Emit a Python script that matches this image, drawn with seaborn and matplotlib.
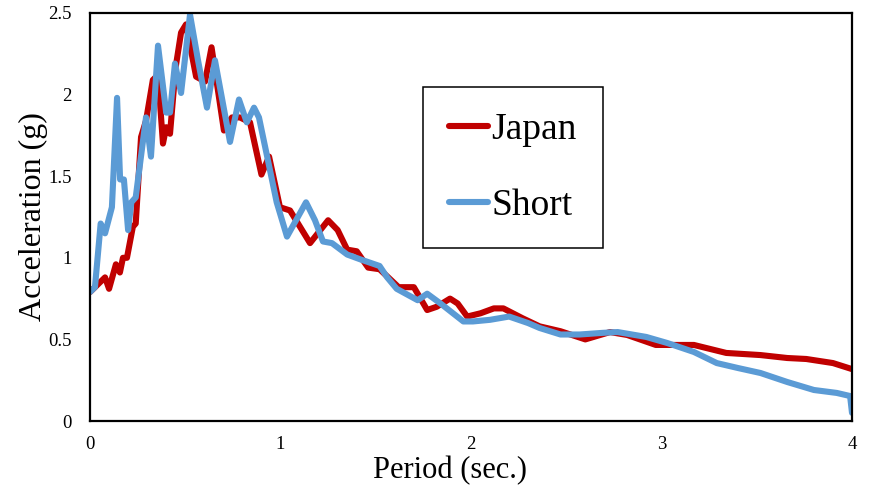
import numpy as np
import pandas as pd
import matplotlib
matplotlib.use("Agg")
import matplotlib.pyplot as plt
import seaborn as sns

# Japan spectrum
japan_x = [0, 0.079, 0.1, 0.136, 0.157, 0.173, 0.194, 0.225, 0.24, 0.268, 0.294, 0.33, 0.357,
           0.383, 0.4, 0.42, 0.45, 0.478, 0.504, 0.557, 0.604, 0.638, 0.703, 0.745, 0.787, 0.84,
           0.9, 0.94, 0.997, 1.05, 1.155, 1.25, 1.3, 1.35, 1.4, 1.46, 1.52, 1.62, 1.70, 1.77,
           1.82, 1.89, 1.93, 1.98, 2.05, 2.12, 2.17, 2.27, 2.36, 2.47, 2.6, 2.73, 2.82, 2.97,
           3.17, 3.34, 3.52, 3.66, 3.76, 3.90, 4.0]
japan_y = [0.79, 0.88, 0.81, 0.96, 0.91, 1.0, 1.0, 1.19, 1.21, 1.74, 1.84, 2.09, 2.12,
           1.70, 1.80, 1.76, 2.17, 2.38, 2.43, 2.11, 2.08, 2.29, 1.78, 1.86, 1.86, 1.83,
           1.51, 1.62, 1.31, 1.29, 1.09, 1.23, 1.17, 1.05, 1.04, 0.94, 0.93, 0.82, 0.82, 0.68,
           0.70, 0.75, 0.72, 0.64, 0.66, 0.69, 0.69, 0.63, 0.58, 0.55, 0.50, 0.545, 0.527, 0.466,
           0.466, 0.417, 0.404, 0.386, 0.38, 0.355, 0.318]

# Short spectrum
short_x = [0, 0.026, 0.056, 0.079, 0.115, 0.142, 0.158, 0.178, 0.2, 0.217, 0.24, 0.294, 0.32,
           0.357, 0.4, 0.42, 0.446, 0.478, 0.525, 0.567, 0.614, 0.656, 0.735, 0.782, 0.823,
           0.861, 0.887, 0.93, 0.98, 1.034, 1.134, 1.181, 1.223, 1.27, 1.35, 1.42, 1.52, 1.56,
           1.61, 1.72, 1.77, 1.84, 1.96, 2.01, 2.1, 2.2, 2.3, 2.36, 2.47, 2.57, 2.69, 2.77,
           2.92, 3.03, 3.17, 3.29, 3.40, 3.52, 3.66, 3.80, 3.92, 3.99, 4.0]
short_y = [0.79, 0.82, 1.21, 1.15, 1.31, 1.98, 1.48, 1.48, 1.17, 1.34, 1.37, 1.86, 1.62,
           2.30, 1.89, 1.89, 2.19, 2.01, 2.49, 2.21, 1.92, 2.21, 1.71, 1.97, 1.83,
           1.92, 1.86, 1.62, 1.34, 1.13, 1.34, 1.23, 1.10, 1.09, 1.02, 0.99, 0.95, 0.88,
           0.81, 0.74, 0.78, 0.72, 0.61, 0.61, 0.62, 0.64, 0.60, 0.57, 0.53, 0.53, 0.54, 0.545,
           0.515, 0.478, 0.423, 0.355, 0.325, 0.294, 0.239, 0.19, 0.172, 0.153, 0.05]

series_names = ["Japan", "Short"]
series_colors = ["#C00000", "#5B9BD5"]
x_ticks = [0, 1, 2, 3, 4]
y_ticks = [0, 0.5, 1, 1.5, 2, 2.5]
y_tick_labels = ["0", "0.5", "1", "1.5", "2", "2.5"]

df = pd.concat([
    pd.DataFrame({"Period": japan_x, "Acc": japan_y, "Series": "Japan"}),
    pd.DataFrame({"Period": short_x, "Acc": short_y, "Series": "Short"}),
], ignore_index=True)

sns.set_theme(style="white")
plt.rcParams["font.family"] = ["Liberation Serif", "DejaVu Serif"]
plt.rcParams["text.color"] = "black"
plt.rcParams["axes.labelcolor"] = "black"

fig = plt.figure(figsize=(8.71, 4.91), dpi=100)
ax = fig.add_axes([90/871, 1-421/491, (852-90)/871, (421-13)/491])

sns.lineplot(data=df, x="Period", y="Acc", hue="Series", hue_order=series_names,
             palette=dict(zip(series_names, series_colors)), estimator=None,
             sort=False, linewidth=4.4, ax=ax)

ax.set_xlim(0, 4)
ax.set_ylim(0, 2.5)
ax.set_xticks(x_ticks)
ax.set_xticklabels([str(t) for t in x_ticks])
ax.set_yticks(y_ticks)
ax.set_yticklabels(y_tick_labels)
ax.tick_params(axis="both", length=0, labelsize=13.5, colors="black")
ax.tick_params(axis="y", pad=13)
ax.tick_params(axis="x", pad=11)
for s in ax.spines.values():
    s.set_visible(True)
    s.set_color("black")
    s.set_linewidth(1.6)

ax.set_xlabel("Period (sec.)", fontsize=22, color="black", labelpad=2, x=(450-90)/762)
ax.set_ylabel("Acceleration (g)", fontsize=23, color="black", labelpad=0)

leg = ax.legend(loc="upper left", bbox_to_anchor=(423/871, 1-87/491),
                bbox_transform=fig.transFigure, borderaxespad=0,
                fontsize=27, handlelength=1.05, handletextpad=0.1,
                labelspacing=1.1, borderpad=0.68, fancybox=False,
                frameon=True, edgecolor="black", framealpha=1)
leg.get_frame().set_linewidth(1.1)
for h in leg.get_lines():
    h.set_linewidth(4.4)
for t in leg.get_texts():
    t.set_color("black")

fig.savefig("out.png", dpi=100, facecolor="white")
